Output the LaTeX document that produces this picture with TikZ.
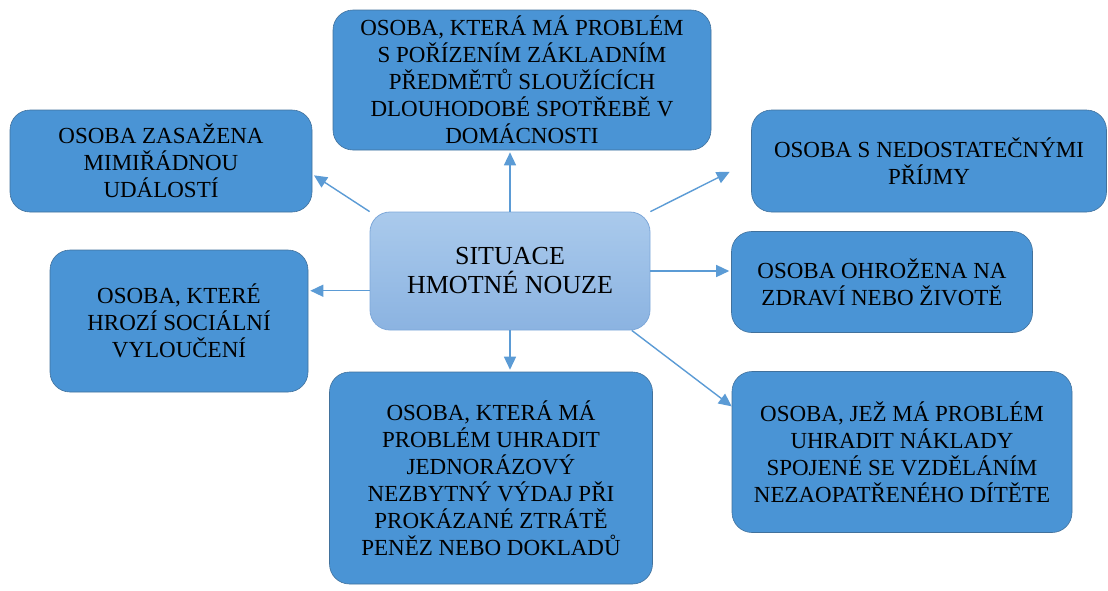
\documentclass[tikz,border=0pt]{standalone}
\usepackage{fontspec}
\setmainfont{Liberation Serif}
\usetikzlibrary{arrows.meta}
\definecolor{boxblue}{HTML}{4A94D5}
\definecolor{boxline}{HTML}{41719C}
\definecolor{hubtop}{HTML}{AACAEC}
\definecolor{hubbot}{HTML}{8BB3E1}
\definecolor{hubline}{HTML}{7EA8D9}
\definecolor{linkblue}{HTML}{5B9BD5}
\begin{document}
\begin{tikzpicture}[x=1pt,y=-1pt,
	leaf/.style={draw=boxline,line width=0.6pt,fill=boxblue,rounded corners=20pt,align=center,
		inner sep=0pt,font=\fontsize{23}{27}\selectfont},
	hub/.style={draw=hubline,line width=0.8pt,top color=hubtop,bottom color=hubbot,rounded corners=20pt,
		align=center,inner sep=0pt,minimum width=280pt,minimum height=118pt,font=\fontsize{26}{29}\selectfont},
	link/.style={draw=linkblue,line width=1.4pt,-{Triangle[length=13pt,width=12pt]}}]
\useasboundingbox (0,0) rectangle (1108,590);
\node (hub) [hub] at (510,271) {SITUACE\\HMOTNÉ NOUZE};
\node (top) [leaf,minimum width=378pt,minimum height=140pt] at (522,80)
	{OSOBA, KTERÁ MÁ PROBLÉM\\S POŘÍZENÍM ZÁKLADNÍM\\PŘEDMĚTŮ SLOUŽÍCÍCH\\DLOUHODOBÉ SPOTŘEBĚ V\\DOMÁCNOSTI};
\node (tl) [leaf,minimum width=302pt,minimum height=102pt] at (161,161)
	{OSOBA ZASAŽENA\\MIMIŘÁDNOU\\UDÁLOSTÍ};
\node (lmid) [leaf,minimum width=258pt,minimum height=142pt] at (179,321)
	{OSOBA, KTERÉ\\HROZÍ SOCIÁLNÍ\\VYLOUČENÍ};
\node (rtop) [leaf,minimum width=355pt,minimum height=102pt] at (929,161)
	{OSOBA S NEDOSTATEČNÝMI\\PŘÍJMY};
\node (rmid) [leaf,minimum width=301pt,minimum height=101pt] at (882,282)
	{OSOBA OHROŽENA NA\\ZDRAVÍ NEBO ŽIVOTĚ};
\node (bot) [leaf,minimum width=323pt,minimum height=212pt] at (491,478)
	{OSOBA, KTERÁ MÁ\\PROBLÉM UHRADIT\\JEDNORÁZOVÝ\\NEZBYTNÝ VÝDAJ PŘI\\PROKÁZANÉ ZTRÁTĚ\\PENĚZ NEBO DOKLADŮ};
\node (bright) [leaf,minimum width=340pt,minimum height=161pt] at (902,452)
	{OSOBA, JEŽ MÁ PROBLÉM\\UHRADIT NÁKLADY\\SPOJENÉ SE VZDĚLÁNÍM\\NEZAOPATŘENÉHO DÍTĚTE};
\draw [link,shorten >=2pt] (hub.north) -- (hub.north |- top.south);
\draw [link,shorten >=2pt] (hub.north west) -- (tl.-5);
\draw [link,shorten >=2pt] (hub.188) -- (hub.188 -| lmid.east);
\draw [link,shorten >=24pt] (hub.north east) -- (rtop.west);
\draw [link,shorten >=2pt] (hub.east) -- (hub.east -| rmid.west);
\draw [link,shorten >=2pt] (hub.south) -- (hub.south |- bot.north);
\draw [link] (hub.-26) -- (bright.165);
\end{tikzpicture}
\end{document}
